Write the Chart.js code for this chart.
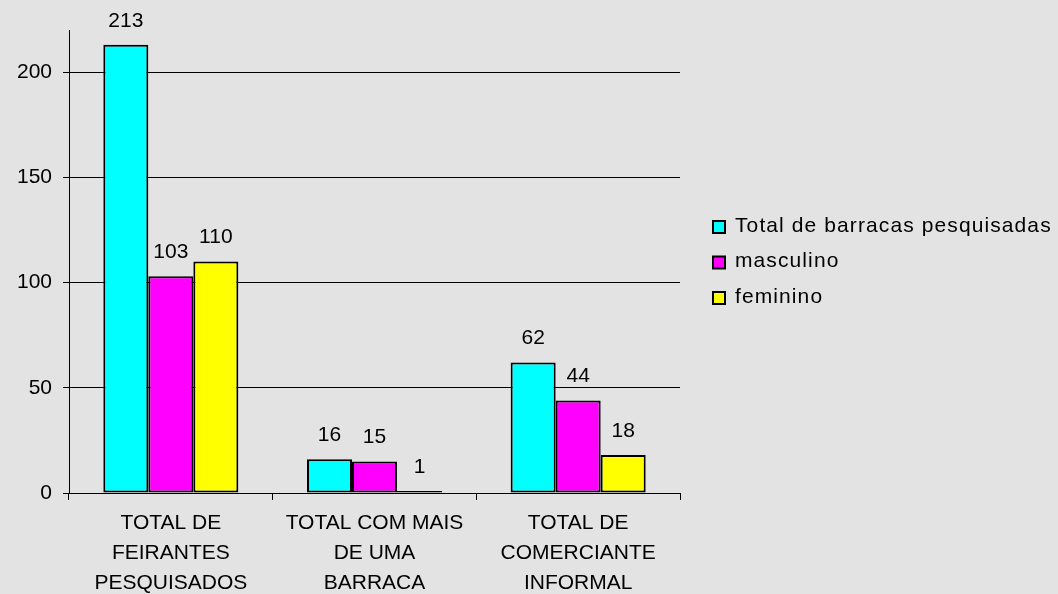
<!DOCTYPE html>
<html>
<head>
<meta charset="utf-8">
<script src="https://cdn.jsdelivr.net/npm/chart.js@4/dist/chart.umd.min.js"></script>
<style>
  html, body { margin:0; padding:0; background:#e3e3e3; }
  #wrap { width:1058px; height:594px; position:relative; }
</style>
</head>
<body>
<div id="wrap"><canvas id="c" width="1058" height="594"></canvas></div>
<script>
// chart data
const categories = [
  ['TOTAL DE', 'FEIRANTES', 'PESQUISADOS'],
  ['TOTAL COM MAIS', 'DE UMA', 'BARRACA'],
  ['TOTAL DE', 'COMERCIANTE', 'INFORMAL']
];
const seriesNames = ['Total de barracas pesquisadas', 'masculino', 'feminino'];
const totalBarracas = [213, 16, 62];
const masculino = [103, 15, 44];
const feminino = [110, 1, 18];
const yTicks = [0, 50, 100, 150, 200];

const COLORS = ['#00ffff', '#ff00ff', '#ffff00'];
const FONT = 'Liberation Sans, Arial, sans-serif';

const bgPlugin = {
  id: 'bg',
  beforeDraw(chart) {
    const ctx = chart.ctx;
    ctx.save();
    ctx.fillStyle = '#e3e3e3';
    ctx.fillRect(0, 0, chart.width, chart.height);
    ctx.restore();
  }
};

// value labels above each bar
const valuePlugin = {
  id: 'values',
  afterDatasetsDraw(chart) {
    const ctx = chart.ctx;
    ctx.save();
    ctx.font = '21px ' + FONT;
    ctx.fillStyle = '#000';
    ctx.textAlign = 'center';
    ctx.textBaseline = 'middle';
    chart.data.datasets.forEach((ds, i) => {
      chart.getDatasetMeta(i).data.forEach((bar, j) => {
        ctx.fillText(String(ds.data[j]), bar.x, bar.y - 24);
      });
    });
    ctx.restore();
  }
};

// legend on the right
const legendPlugin = {
  id: 'sideLegend',
  afterDraw(chart) {
    const ctx = chart.ctx;
    ctx.save();
    ctx.font = '21px ' + FONT;
    ctx.letterSpacing = '1.1px';
    ctx.textBaseline = 'middle';
    ctx.textAlign = 'left';
    seriesNames.forEach((name, i) => {
      const y = 226 + i * 35.5;
      ctx.fillStyle = COLORS[i];
      ctx.fillRect(713, y - 5, 12, 12);
      ctx.strokeStyle = '#000';
      ctx.lineWidth = 2;
      ctx.strokeRect(713, y - 5, 12, 12);
      ctx.fillStyle = '#000';
      ctx.fillText(name, 735, y);
    });
    ctx.restore();
  }
};

new Chart(document.getElementById('c').getContext('2d'), {
  type: 'bar',
  data: {
    labels: categories,
    datasets: [totalBarracas, masculino, feminino].map((d, i) => ({
      label: seriesNames[i],
      data: d,
      backgroundColor: COLORS[i],
      borderColor: '#000',
      borderWidth: 2,
      borderSkipped: false,
      categoryPercentage: 0.663,
      barPercentage: 1
    }))
  },
  options: {
    responsive: false,
    animation: false,
    layout: { padding: { left: 0, top: 30, right: 378, bottom: 0 } },
    plugins: { legend: { display: false }, tooltip: { enabled: false } },
    scales: {
      x: {
        grid: { display: true, drawOnChartArea: false, drawTicks: true, tickLength: 7, color: '#000', offset: true },
        border: { color: '#000', width: 1 },
        ticks: { color: '#000', padding: 8, maxRotation: 0, autoSkip: false,
                 font: { family: FONT, size: 21, lineHeight: 1.43 } },
        afterFit(s) { s.height = 101; }
      },
      y: {
        min: 0, max: 220,
        afterBuildTicks(s) { s.ticks = yTicks.map(v => ({ value: v })); },
        grid: { color: '#000', tickLength: 6, drawTicks: true },
        border: { color: '#000', width: 1 },
        ticks: { color: '#000', padding: 11, font: { family: FONT, size: 21 } },
        afterFit(s) { s.width = 69; }
      }
    }
  },
  plugins: [bgPlugin, valuePlugin, legendPlugin]
});
</script>
</body>
</html>
